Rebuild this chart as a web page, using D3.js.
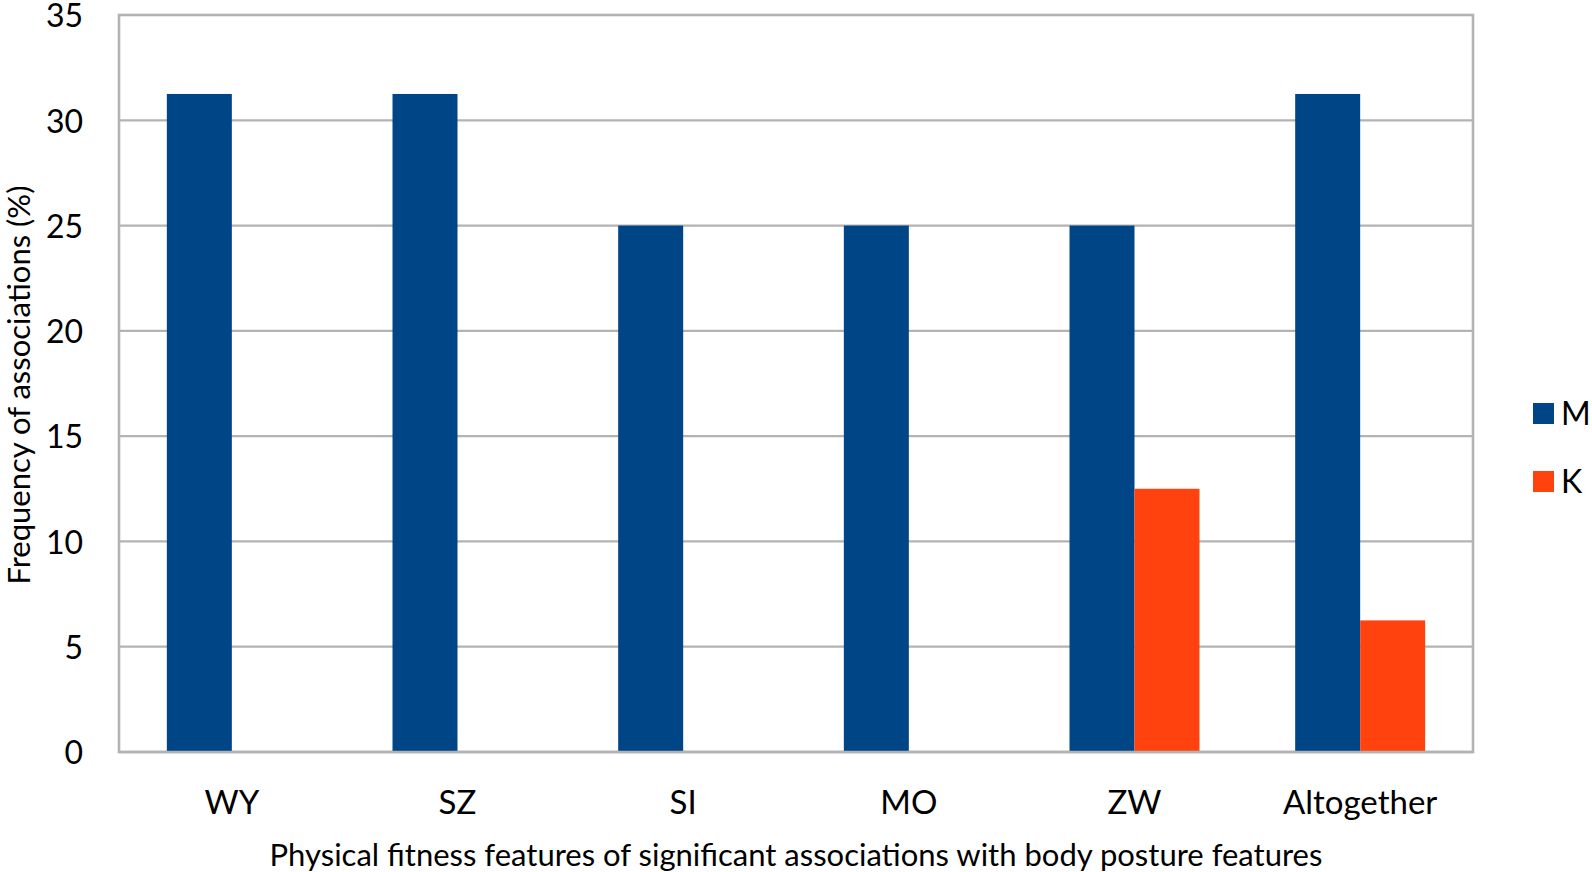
<!DOCTYPE html>
<html>
<head>
<meta charset="utf-8">
<script src="https://cdn.jsdelivr.net/npm/d3@7"></script>
<style>
  html, body { margin: 0; padding: 0; background: #fff; }
  svg { display: block; font-family: Lato, "Open Sans", sans-serif; }
</style>
</head>
<body>
<svg id="chart" width="1592" height="872"></svg>
<script>
const categories = ["WY", "SZ", "SI", "MO", "ZW", "Altogether"];
const seriesNames = ["M", "K"];
const valuesM = [31.25, 31.25, 25, 25, 25, 31.25];
const valuesK = [0, 0, 0, 0, 12.5, 6.25];
const yTicks = [0, 5, 10, 15, 20, 25, 30, 35];
const colors = ["#004586", "#ff420e"];
const xTitle = "Physical fitness features of significant associations with body posture features";
const yTitle = "Frequency of associations (%)";

const svg = d3.select("#chart");
const m = { left: 119, right: 1473, top: 15, bottom: 752 };

const x = d3.scaleBand().domain(categories).range([m.left, m.right])
  .paddingInner(0.424).paddingOuter(0.212);
const x1 = d3.scaleBand().domain(seriesNames).range([0, x.bandwidth()]).padding(0);
const y = d3.scaleLinear().domain([0, 35]).range([m.bottom, m.top]);

const grid = "#b3b3b3";

// gridlines
svg.append("g").selectAll("line").data(yTicks).join("line")
  .attr("x1", m.left).attr("x2", m.right)
  .attr("y1", d => y(d)).attr("y2", d => y(d))
  .attr("stroke", grid).attr("stroke-width", 2.2);

// border
svg.append("rect")
  .attr("x", m.left).attr("y", m.top)
  .attr("width", m.right - m.left).attr("height", m.bottom - m.top)
  .attr("fill", "none").attr("stroke", grid).attr("stroke-width", 2.6);

// bars
const data = categories.map((c, i) => ({ c, vals: [valuesM[i], valuesK[i]] }));
const g = svg.append("g").selectAll("g").data(data).join("g")
  .attr("transform", d => `translate(${x(d.c)},0)`);
g.selectAll("rect").data(d => d.vals.map((v, j) => ({ v, s: seriesNames[j], j })))
  .join("rect")
  .filter(d => d.v > 0)
  .attr("x", d => x1(d.s))
  .attr("width", x1.bandwidth())
  .attr("y", d => y(d.v))
  .attr("height", d => y(0) - y(d.v))
  .attr("fill", d => colors[d.j]);

// redraw bottom line over bars
svg.append("line").attr("x1", m.left).attr("x2", m.right)
  .attr("y1", y(0)).attr("y2", y(0)).attr("stroke", grid).attr("stroke-width", 2.6);

// y axis labels
const yAxis = d3.axisLeft(y).tickValues(yTicks).tickSize(0).tickPadding(36);
const ya = svg.append("g").attr("transform", `translate(${m.left},0)`).call(yAxis);
ya.select(".domain").remove();
ya.selectAll("text").attr("font-size", 32).attr("font-family", "Lato, sans-serif")
  .attr("fill", "#000").attr("dy", "0.37em");

// x axis labels
const xAxis = d3.axisBottom(x).tickSize(0).tickPadding(39);
const xa = svg.append("g").attr("transform", `translate(0,${m.bottom})`).call(xAxis);
xa.select(".domain").remove();
xa.selectAll("text").attr("font-size", 33).attr("font-family", "Lato, sans-serif")
  .attr("fill", "#000").attr("dy", "0.71em");

// axis titles
svg.append("text").attr("x", 796).attr("y", 866).attr("text-anchor", "middle")
  .attr("font-size", 31).attr("fill", "#000").text(xTitle);
svg.append("text").attr("transform", "translate(30,385) rotate(-90)")
  .attr("text-anchor", "middle").attr("font-size", 31).attr("fill", "#000").text(yTitle);

// legend
const leg = svg.append("g").selectAll("g").data(seriesNames).join("g")
  .attr("transform", (d, i) => `translate(1533,${403 + i * 68})`);
leg.append("rect").attr("width", 21).attr("height", 21).attr("fill", (d, i) => colors[i]);
leg.append("text").attr("x", 28).attr("y", 22).attr("font-size", 32).attr("fill", "#000").text(d => d);
</script>
</body>
</html>
